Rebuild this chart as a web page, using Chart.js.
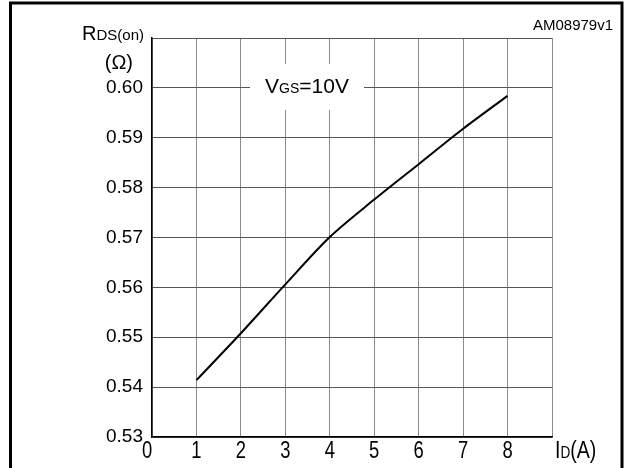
<!DOCTYPE html>
<html>
<head>
<meta charset="utf-8">
<script src="https://cdn.jsdelivr.net/npm/chart.js@4"></script>
<style>
  html, body { margin: 0; padding: 0; background: #fff; }
</style>
</head>
<body>
<canvas id="myChart" width="628" height="468"></canvas>
<script>
const FONT = '"Liberation Sans", Arial, Helvetica, sans-serif'

// drain current (A) and on-resistance (ohm)
const currents = [1, 2, 3, 4, 5, 6, 7, 8]
const resistance = [0.5414, 0.5508, 0.5606, 0.5701, 0.5776, 0.5847, 0.5918, 0.5984]

const xTickLabels = ["0", "1", "2", "3", "4", "5", "6", "7", "8"]
const yTickLabels = ["0.53", "0.54", "0.55", "0.56", "0.57", "0.58", "0.59", "0.60"]

// draws pieces of text of different sizes one after another
function drawParts(ctx, parts, x, y, align, sx) {
  ctx.save()
  ctx.textBaseline = "alphabetic"
  ctx.textAlign = "left"
  let total = 0
  parts.forEach(p => {
    ctx.font = p[1] + "px " + FONT
    total += ctx.measureText(p[0]).width
  })
  total *= sx
  let start = x
  if (align === "right") start = x - total
  if (align === "center") start = x - total / 2
  ctx.translate(start, y)
  ctx.scale(sx, 1)
  let cx = 0
  parts.forEach(p => {
    ctx.font = p[1] + "px " + FONT
    ctx.fillText(p[0], cx, 0)
    cx += ctx.measureText(p[0]).width
  })
  ctx.restore()
}

const extras = {
  id: "extras",
  afterDraw(chart) {
    const ctx = chart.ctx
    const xs = chart.scales.x
    ctx.save()
    ctx.fillStyle = "#000"

    // VGS box on the 0.60 line
    ctx.fillStyle = "#fff"
    ctx.fillRect(250, 64, 114, 46)
    ctx.fillStyle = "#000"
    drawParts(ctx, [["V", 21], ["GS", 14], ["=10V", 21]], 307, 93, "center", 1)

    // axis titles
    drawParts(ctx, [["R", 20], ["DS(on)", 15]], 144, 40, "right", 1)
    drawParts(ctx, [["(\u03A9)", 20]], 133, 69, "right", 1)
    drawParts(ctx, [["AM08979v1", 15]], 613, 30, "right", 1)

    // x tick labels
    xTickLabels.forEach((t, i) => {
      let px = xs.getPixelForValue(i)
      if (i === 0) px -= 5
      drawParts(ctx, [[t, 23]], px, 458, "center", 0.8)
    })
    drawParts(ctx, [["I", 23], ["D", 16], ["(A)", 23]], 555, 458, "left", 0.85)

    // outer frame
    ctx.strokeStyle = "#000"
    ctx.lineWidth = 3
    ctx.strokeRect(10.5, 3, 611.5, 480)
    ctx.restore()
  }
}

const data = {
  datasets: [{
    data: currents.map((c, i) => ({ x: c, y: resistance[i] })),
    borderColor: "#000",
    borderWidth: 2,
    pointRadius: 0,
    tension: 0.3,
    fill: false,
  }],
}

const config = {
  type: "line",
  data: data,
  options: {
    responsive: false,
    animation: false,
    devicePixelRatio: 1,
    layout: { padding: { top: 38, right: 76, left: 0, bottom: 0 } },
    plugins: { legend: { display: false }, tooltip: { enabled: false } },
    scales: {
      x: {
        type: "linear",
        min: 0,
        max: 9,
        ticks: { stepSize: 1, display: false },
        grid: { color: "#8a8a8a", lineWidth: 1, drawTicks: false },
        border: { color: "#000", width: 1.5 },
        afterFit(scale) { scale.height = 31 },
      },
      y: {
        min: 0.53,
        max: 0.61,
        ticks: {
          stepSize: 0.01,
          padding: 9,
          color: "#000",
          font: { family: FONT, size: 19 },
          callback: (v) => {
            const i = Math.round((v - 0.53) * 100)
            return yTickLabels[i] || ""
          },
        },
        grid: { color: "#555", lineWidth: 1, drawTicks: false },
        border: { color: "#000", width: 1.5 },
        afterFit(scale) { scale.width = 152 },
      },
    },
  },
  plugins: [extras],
}

const myChart = new Chart(document.getElementById("myChart").getContext("2d"), config)
</script>
</body>
</html>
